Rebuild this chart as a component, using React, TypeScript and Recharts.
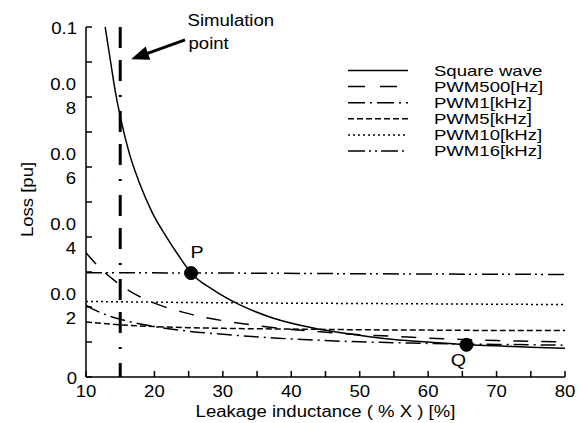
import React from "react";
import { LineChart, Line, XAxis, YAxis, ReferenceDot, ReferenceLine, Customized } from "recharts";

// ---- data ----
const squareX = [12.8, 13.6, 14.4, 15.1, 16.3, 17.8, 19.7, 21.7, 23.6, 25.35, 28.6, 32.5, 37.4, 43.2, 49.6, 55, 60, 65.6, 70, 75, 80];
const squareY = [0.1, 0.09, 0.0803, 0.0736, 0.0641, 0.0555, 0.0469, 0.0402, 0.0345, 0.0297, 0.0249, 0.0206, 0.0168, 0.014, 0.012, 0.0107, 0.01, 0.0092, 0.0089, 0.0085, 0.0082];

const pwm500X = [10, 12, 14, 16, 18, 20, 22, 24, 26, 28, 30, 33, 36, 40, 45, 50, 55, 60, 65, 70, 75, 80];
const pwm500Y = [0.0355, 0.0312, 0.0278, 0.025, 0.0228, 0.0211, 0.0197, 0.0186, 0.0176, 0.0168, 0.0161, 0.0152, 0.0144, 0.0136, 0.0128, 0.0121, 0.0116, 0.0111, 0.0107, 0.0104, 0.0102, 0.01];

const pwm1X = [10, 11, 12, 13, 15, 17, 20, 24, 30, 38, 45, 53, 60, 65, 70, 80];
const pwm1Y = [0.0205, 0.0194, 0.0185, 0.0177, 0.0165, 0.0155, 0.0144, 0.0133, 0.0122, 0.0111, 0.0104, 0.0099, 0.0096, 0.0094, 0.0093, 0.0091];

const pwm5X = [10, 15, 20, 25, 30, 40, 50, 60, 70, 80];
const pwm5Y = [0.0157, 0.0149, 0.0144, 0.0141, 0.0139, 0.0137, 0.0135, 0.0134, 0.0133, 0.0133];

const pwm10X = [10, 30, 50, 80];
const pwm10Y = [0.0216, 0.0212, 0.021, 0.0207];

const pwm16X = [10, 30, 50, 80];
const pwm16Y = [0.0298, 0.0297, 0.0295, 0.0293];

const simX = [15, 15];
const simY = [0.1, 0];

const pointP = { x: 25.35, y: 0.0297, label: "P" };
const pointQ = { x: 65.6, y: 0.0092, label: "Q" };

const arrowFrom = { x: 24.47, y: 0.0963 };
const arrowTo = { x: 16.58, y: 0.0908 };

const xTicks = [10, 15, 20, 25, 30, 35, 40, 45, 50, 55, 60, 65, 70, 75, 80];
const yTicks = [0, 0.01, 0.02, 0.03, 0.04, 0.05, 0.06, 0.07, 0.08, 0.09, 0.1];
const yTickLabels = [["0"], [], ["0.0", "2"], [], ["0.0", "4"], [], ["0.0", "6"], [], ["0.0", "8"], [], ["0.1"]];

const legendNames = ["Square wave", "PWM500[Hz]", "PWM1[kHz]", "PWM5[kHz]", "PWM10[kHz]", "PWM16[kHz]"];

const zip = (xs: number[], ys: number[]) => xs.map((x, i) => ({ x, y: ys[i] }));

const DASH = {
  pwm500: "15 13",
  pwm1: "15 5 2 5",
  pwm5: "6 3",
  pwm10: "2 3",
  pwm16: "16 4 2 4 2 5",
};
const LEGEND_DASH = [undefined, "17 15", "17 5 2 5", "6 3", "2 3", "17 4 2 4 2 4"];

const FONT = "'Liberation Sans', Arial, Helvetica, sans-serif";

const T = ({ x, y, anchor = "start", size = 16, sx = 1.16, rotate, children }: any) => (
  <text
    transform={`translate(${x},${y})${rotate ? ` rotate(${rotate})` : ""} scale(${sx},1)`}
    textAnchor={anchor}
    fontFamily={FONT}
    fontSize={size}
    fill="#000"
  >
    {children}
  </text>
);

const XTick = (props: any) => {
  const { x, y, payload } = props;
  const v = payload.value;
  const major = Math.abs(v % 10) < 1e-9;
  return (
    <g>
      <line x1={x} x2={x} y1={y} y2={y - 6} stroke="#000" strokeWidth={1.5} />
      {major && (
        <T x={x} y={y + 20} anchor="middle">
          {String(v)}
        </T>
      )}
    </g>
  );
};

const YTick = (props: any) => {
  const { x, y, payload } = props;
  const v = payload.value;
  const idx = yTicks.findIndex((t) => Math.abs(t - v) < 1e-9);
  const lines = idx >= 0 ? yTickLabels[idx] : [];
  return (
    <g>
      <line x1={x} x2={x + 6} y1={y} y2={y} stroke="#000" strokeWidth={1.5} />
      {lines.length === 1 && (
        <T x={x - 9} y={y + 6.5} anchor="end">
          {lines[0]}
        </T>
      )}
      {lines.length === 2 && (
        <>
          <T x={x - 10} y={y - 7.5} anchor="end">
            {lines[0]}
          </T>
          <T x={x - 10} y={y + 17} anchor="end">
            {lines[1]}
          </T>
        </>
      )}
    </g>
  );
};

const ArrowShape = (props: any) => {
  const { x1, y1, x2, y2 } = props;
  const dx = x2 - x1;
  const dy = y2 - y1;
  const len = Math.sqrt(dx * dx + dy * dy);
  const ux = dx / len;
  const uy = dy / len;
  const hl = 18;
  const hw = 7;
  const bx = x2 - ux * hl;
  const by = y2 - uy * hl;
  const px = -uy;
  const py = ux;
  return (
    <g>
      <line x1={x1} y1={y1} x2={bx + ux * 2} y2={by + uy * 2} stroke="#000" strokeWidth={3} />
      <polygon
        points={`${x2},${y2} ${bx + px * hw},${by + py * hw} ${bx - px * hw},${by - py * hw}`}
        fill="#000"
      />
      <T x={x1 + 2.5} y={y1 - 13.5}>Simulation</T>
      <T x={x1 + 3.5} y={y1 + 9}>point</T>
    </g>
  );
};

const DotLabel = (dx: number, dy: number, text: string) => (props: any) => {
  const { viewBox } = props;
  const cx = viewBox.x + viewBox.width / 2;
  const cy = viewBox.y + viewBox.height / 2;
  return (
    <T x={cx + dx} y={cy + dy} anchor="middle" size={17}>
      {text}
    </T>
  );
};

const LegendBlock = () => (
  <g>
    {legendNames.map((name, i) => {
      const cy = 70.5 + i * 16.1;
      return (
        <g key={name}>
          <line x1={348} x2={408} y1={cy} y2={cy} stroke="#000" strokeWidth={1.5} strokeDasharray={LEGEND_DASH[i]} />
          <T x={434} y={cy + 5.3} size={14.5} sx={1.28}>{name}</T>
        </g>
      );
    })}
    <T x={33} y={199.5} anchor="middle" rotate={-90}>Loss [pu]</T>
    <T x={325.5} y={416.5} anchor="middle">Leakage inductance ( % X ) [%]</T>
  </g>
);

export default function App() {
  return (
    <div style={{ position: "absolute", left: 0, top: 0, background: "#fff" }}>
      <LineChart width={584} height={423} margin={{ top: 27, right: 19, left: 0, bottom: 0 }}>
        <XAxis
          type="number"
          dataKey="x"
          domain={[10, 80]}
          ticks={xTicks}
          interval={0}
          allowDataOverflow
          height={46}
          tickSize={0}
          tickMargin={0}
          tick={<XTick />}
          axisLine={{ stroke: "#000", strokeWidth: 1.5 }}
          tickLine={false}
        />
        <YAxis
          type="number"
          dataKey="y"
          domain={[0, 0.1]}
          ticks={yTicks}
          interval={0}
          allowDataOverflow
          width={86}
          tickSize={0}
          tickMargin={0}
          tick={<YTick />}
          axisLine={{ stroke: "#000", strokeWidth: 1.5 }}
          tickLine={false}
        />
        <Line data={zip(pwm16X, pwm16Y)} dataKey="y" type="monotone" stroke="#000" strokeWidth={1.5} strokeDasharray={DASH.pwm16} dot={false} activeDot={false} isAnimationActive={false} />
        <Line data={zip(pwm10X, pwm10Y)} dataKey="y" type="monotone" stroke="#000" strokeWidth={1.5} strokeDasharray={DASH.pwm10} dot={false} activeDot={false} isAnimationActive={false} />
        <Line data={zip(pwm5X, pwm5Y)} dataKey="y" type="monotone" stroke="#000" strokeWidth={1.5} strokeDasharray={DASH.pwm5} dot={false} activeDot={false} isAnimationActive={false} />
        <Line data={zip(pwm1X, pwm1Y)} dataKey="y" type="monotone" stroke="#000" strokeWidth={1.5} strokeDasharray={DASH.pwm1} dot={false} activeDot={false} isAnimationActive={false} />
        <Line data={zip(pwm500X, pwm500Y)} dataKey="y" type="monotone" stroke="#000" strokeWidth={1.5} strokeDasharray={DASH.pwm500} dot={false} activeDot={false} isAnimationActive={false} />
        <Line data={zip(squareX, squareY)} dataKey="y" type="monotone" stroke="#000" strokeWidth={1.5} dot={false} activeDot={false} isAnimationActive={false} />
        <Line data={zip(simX, simY)} dataKey="y" type="linear" stroke="#000" strokeWidth={3} strokeDasharray="21 12 21 14 2 14" dot={false} activeDot={false} isAnimationActive={false} />
        <ReferenceLine segment={[arrowFrom, arrowTo]} shape={(p: any) => <ArrowShape {...p} />} ifOverflow="visible" />
        <ReferenceDot x={pointP.x} y={pointP.y} r={6.5} fill="#000" stroke="#000" ifOverflow="visible" label={DotLabel(6, -15, pointP.label)} />
        <ReferenceDot x={pointQ.x} y={pointQ.y} r={6.5} fill="#000" stroke="#000" ifOverflow="visible" label={DotLabel(-8, 21, pointQ.label)} />
        <Customized component={LegendBlock} />
      </LineChart>
    </div>
  );
}
